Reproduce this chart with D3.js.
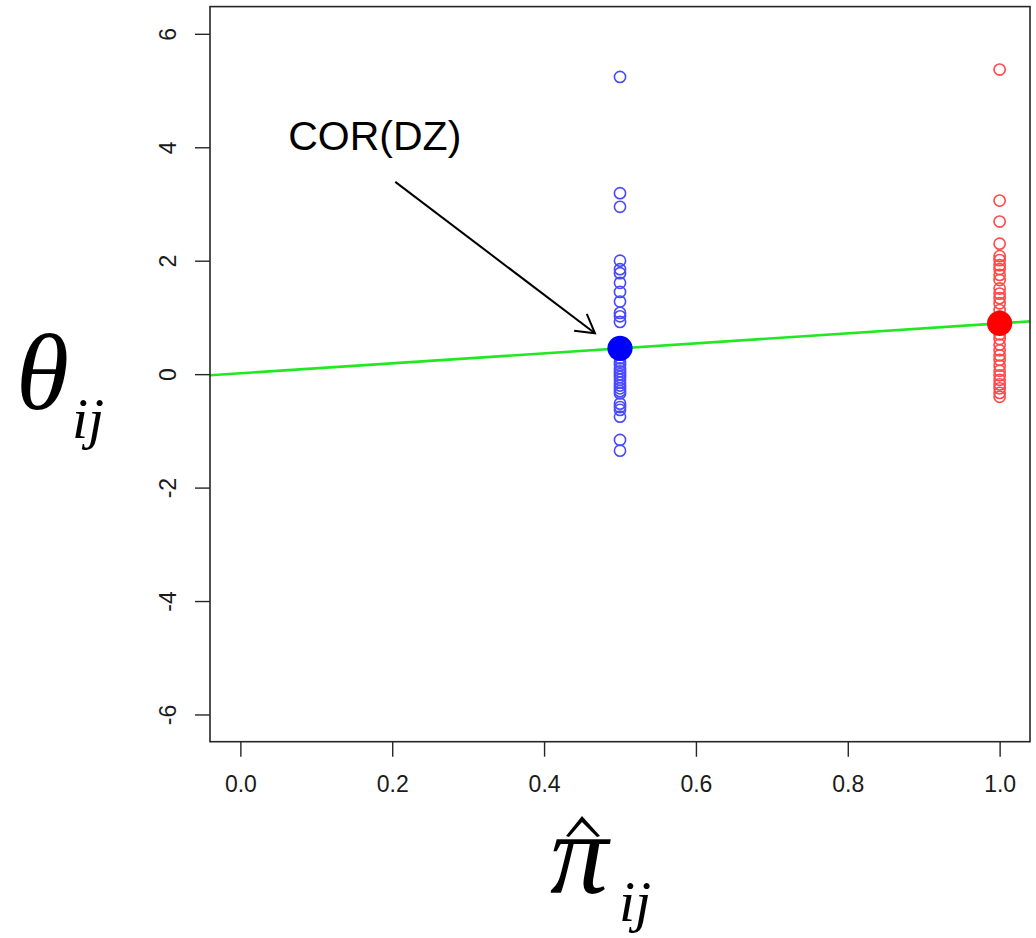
<!DOCTYPE html>
<html>
<head>
<meta charset="utf-8">
<script src="https://cdn.jsdelivr.net/npm/d3@7"></script>
<style>
  html, body { margin: 0; padding: 0; background: #fff; }
  svg { display: block; }
</style>
</head>
<body>
<svg id="chart" width="1036" height="938"></svg>
<script>
// Twin-pair estimates: DZ pairs sit at pi = 0.5, MZ pairs at pi = 1.0
const dzPi = 0.5;
const dzTheta = [5.24, 3.19, 2.95, 2.00, 1.85, 1.78, 1.61, 1.45, 1.28, 1.08, 1.02, 0.92,
  0.28, 0.22, 0.16, 0.10, 0.05, 0.00, -0.05, -0.10, -0.15, -0.20, -0.25, -0.30, -0.34,
  -0.52, -0.58, -0.63, -0.75, -1.16, -1.35];
const mzPi = 1.0;
const mzTheta = [5.37, 3.06, 2.69, 2.30, 2.08, 2.01, 1.92, 1.85, 1.75, 1.66, 1.51, 1.42,
  1.34, 1.25, 1.13, 1.02, 0.80, 0.70, 0.62, 0.52, 0.42, 0.33, 0.25, 0.15, 0.06, -0.02,
  -0.10, -0.18, -0.25, -0.33, -0.40];
// Group summaries (filled dots) and the fitted line through them
const groupPi = [0.5, 1.0];
const groupTheta = [0.455, 0.895];
const groupColors = ["#0000ff", "#ff0000"];
const fitIntercept = 0.015;
const fitSlope = 0.88;
// Axis ticks
const xTicks = [0.0, 0.2, 0.4, 0.6, 0.8, 1.0];
const yTicks = [-6, -4, -2, 0, 2, 4, 6];
// Annotation: label position and arrow start/end in data units
const noteText = "COR(DZ)";
const notePos = [0.177, 3.95];
const arrowFrom = [0.204, 3.39];
const arrowTo = [0.467, 0.72];

const svg = d3.select("#chart");
const plot = { left: 210, right: 1030, top: 6.6, bottom: 741.7 };

const x = d3.scaleLinear().domain([-0.04, 1.04]).range([plot.left, plot.right]);
const y = d3.scaleLinear().domain([-6.48, 6.48]).range([plot.bottom, plot.top]);

const lineStroke = "#262626";

// Fitted line, clipped to the plotting region
svg.append("clipPath").attr("id", "clip")
  .append("rect")
  .attr("x", plot.left).attr("y", plot.top)
  .attr("width", plot.right - plot.left).attr("height", plot.bottom - plot.top);

const xs = x.domain();
svg.append("line")
  .attr("clip-path", "url(#clip)")
  .attr("x1", x(xs[0])).attr("y1", y(fitIntercept + fitSlope * xs[0]))
  .attr("x2", x(xs[1])).attr("y2", y(fitIntercept + fitSlope * xs[1]))
  .attr("stroke", "#22e822").attr("stroke-width", 2.6);

// Individual pair estimates as open circles
function openCircles(piVal, values, color) {
  svg.append("g").selectAll("circle").data(values).join("circle")
    .attr("cx", x(piVal)).attr("cy", d => y(d)).attr("r", 5.6)
    .attr("fill", "none").attr("stroke", color).attr("stroke-width", 1.6);
}
openCircles(dzPi, dzTheta, "#4848ff");
openCircles(mzPi, mzTheta, "#ff4848");

// Group summary dots
svg.append("g").selectAll("circle").data(groupPi).join("circle")
  .attr("cx", d => x(d)).attr("cy", (d, i) => y(groupTheta[i])).attr("r", 12.6)
  .attr("fill", (d, i) => groupColors[i]);

// Axes
const tickFont = "'Liberation Sans', Arial, sans-serif";
const xAxis = svg.append("g")
  .attr("transform", `translate(0,${plot.bottom})`)
  .call(d3.axisBottom(x).tickValues(xTicks).tickSize(15).tickPadding(0).tickFormat(d3.format(".1f")));
xAxis.select(".domain").remove();
xAxis.selectAll(".tick line").attr("stroke", lineStroke).attr("stroke-width", 1.4);
xAxis.selectAll(".tick text")
  .attr("font-family", tickFont).attr("font-size", 23).attr("fill", "#1a1a1a")
  .attr("dy", null).attr("y", 50);

const yAxis = svg.append("g")
  .attr("transform", `translate(${plot.left},0)`)
  .call(d3.axisLeft(y).tickValues(yTicks).tickSize(15).tickFormat(d => String(d)));
yAxis.select(".domain").remove();
yAxis.selectAll(".tick line").attr("stroke", lineStroke).attr("stroke-width", 1.4);
yAxis.selectAll(".tick text")
  .attr("font-family", tickFont).attr("font-size", 23).attr("fill", "#1a1a1a")
  .attr("x", null).attr("dy", null)
  .attr("text-anchor", "middle")
  .attr("transform", "translate(-34,0) rotate(-90)");

// Plot frame
svg.append("rect")
  .attr("x", plot.left).attr("y", plot.top)
  .attr("width", plot.right - plot.left).attr("height", plot.bottom - plot.top)
  .attr("fill", "none").attr("stroke", lineStroke).attr("stroke-width", 1.6);

// Annotation label and arrow
svg.append("text")
  .attr("x", x(notePos[0])).attr("y", y(notePos[1]))
  .attr("text-anchor", "middle")
  .attr("font-family", tickFont).attr("font-size", 41).attr("fill", "#000")
  .text(noteText);

const ax0 = x(arrowFrom[0]), ay0 = y(arrowFrom[1]);
const ax1 = x(arrowTo[0]), ay1 = y(arrowTo[1]);
svg.append("line")
  .attr("x1", ax0).attr("y1", ay0).attr("x2", ax1).attr("y2", ay1)
  .attr("stroke", "#000").attr("stroke-width", 2);
const ang = Math.atan2(ay1 - ay0, ax1 - ax0);
const headLen = 21, headAng = Math.PI / 6;
const head = [ang + Math.PI - headAng, ang + Math.PI + headAng].map(a =>
  [ax1 + headLen * Math.cos(a), ay1 + headLen * Math.sin(a)]);
svg.append("path")
  .attr("d", `M${head[0][0]},${head[0][1]}L${ax1},${ay1}L${head[1][0]},${head[1][1]}`)
  .attr("fill", "none").attr("stroke", "#000").attr("stroke-width", 2);

// Axis titles: theta_ij and pi-hat_ij
const mathFont = "'Liberation Serif', 'DejaVu Serif', serif";
const yTitle = svg.append("g");
yTitle.append("text")
  .attr("x", 16).attr("y", 409)
  .attr("font-family", mathFont).attr("font-style", "italic").attr("font-size", 108)
  .text("θ");
yTitle.append("text")
  .attr("x", 72).attr("y", 438)
  .attr("font-family", mathFont).attr("font-style", "italic").attr("font-size", 58)
  .text("ij");

const xTitle = svg.append("g");
xTitle.append("text")
  .attr("x", 550).attr("y", 893)
  .attr("font-family", mathFont).attr("font-style", "italic").attr("font-size", 116)
  .text("π");
// circumflex accent over pi, drawn as a thin wedge
xTitle.append("path")
  .attr("d", "M566,836 L582,816 L600,836 L597,837 L582,822 L569,837 Z")
  .attr("fill", "#000");
xTitle.append("text")
  .attr("x", 619).attr("y", 921)
  .attr("font-family", mathFont).attr("font-style", "italic").attr("font-size", 58)
  .text("ij");
</script>
</body>
</html>
